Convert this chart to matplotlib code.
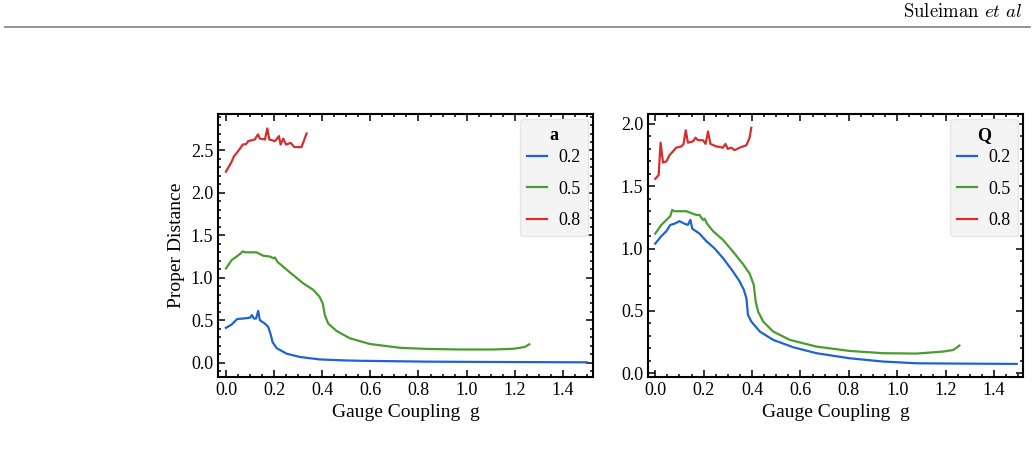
import numpy as np
import matplotlib.pyplot as plt
from matplotlib.lines import Line2D
from matplotlib.ticker import AutoMinorLocator, MultipleLocator

plt.rcParams['font.family'] = ['Liberation Serif', 'DejaVu Serif']
plt.rcParams['mathtext.fontset'] = 'cm'

labels = ['0.2', '0.5', '0.8']
colors = ['#1f63d3', '#4a9b30', '#d2302f']

# left panel: parameter a
a02_g = [0, 0.024, 0.047, 0.072, 0.1, 0.108, 0.116, 0.125, 0.134, 0.141, 0.162, 0.176, 0.186, 0.194,
         0.211, 0.252, 0.307, 0.39, 0.488, 0.557, 0.834, 1.11, 1.5]
a02_d = [0.41, 0.45, 0.515, 0.52, 0.53, 0.56, 0.52, 0.52, 0.61, 0.50, 0.46, 0.42, 0.33, 0.24,
         0.17, 0.106, 0.067, 0.038, 0.027, 0.022, 0.012, 0.008, 0.004]
a05_g = [0, 0.024, 0.044, 0.058, 0.069, 0.083, 0.127, 0.155, 0.183, 0.197, 0.204, 0.213, 0.238, 0.28,
         0.321, 0.363, 0.388, 0.402, 0.411, 0.425, 0.46, 0.515, 0.598, 0.723, 0.834, 0.972, 1.11,
         1.194, 1.242, 1.26]
a05_d = [1.11, 1.21, 1.25, 1.28, 1.31, 1.30, 1.30, 1.26, 1.25, 1.23, 1.24, 1.19, 1.13, 1.03,
         0.935, 0.857, 0.78, 0.70, 0.56, 0.46, 0.373, 0.287, 0.22, 0.175, 0.162, 0.155, 0.155,
         0.163, 0.185, 0.216]
a08_g = [0, 0.024, 0.033, 0.05, 0.07, 0.083, 0.093, 0.12, 0.133, 0.141, 0.162, 0.172, 0.18, 0.204,
         0.22, 0.227, 0.238, 0.25, 0.269, 0.284, 0.314, 0.335]
a08_d = [2.25, 2.37, 2.43, 2.49, 2.57, 2.575, 2.61, 2.63, 2.69, 2.64, 2.63, 2.76, 2.63, 2.61,
         2.67, 2.57, 2.64, 2.57, 2.59, 2.54, 2.54, 2.70]

# right panel: parameter Q
q02_g = [0, 0.025, 0.046, 0.062, 0.08, 0.1, 0.121, 0.135, 0.145, 0.153, 0.183, 0.211, 0.246, 0.28,
         0.321, 0.349, 0.366, 0.377, 0.383, 0.397, 0.432, 0.487, 0.57, 0.666, 0.804, 0.942, 1.08,
         1.218, 1.494]
q02_d = [1.04, 1.10, 1.14, 1.19, 1.20, 1.22, 1.20, 1.19, 1.23, 1.16, 1.12, 1.06, 1.00, 0.924,
         0.817, 0.736, 0.67, 0.60, 0.47, 0.415, 0.335, 0.268, 0.209, 0.161, 0.12, 0.094, 0.08,
         0.078, 0.075]
q05_g = [0, 0.025, 0.046, 0.062, 0.07, 0.08, 0.128, 0.17, 0.183, 0.197, 0.204, 0.214, 0.239, 0.28,
         0.321, 0.363, 0.39, 0.407, 0.415, 0.425, 0.446, 0.487, 0.556, 0.666, 0.804, 0.942, 1.08,
         1.19, 1.232, 1.257]
q05_d = [1.12, 1.19, 1.23, 1.26, 1.31, 1.30, 1.30, 1.27, 1.27, 1.23, 1.24, 1.20, 1.14, 1.07,
         0.977, 0.875, 0.80, 0.71, 0.576, 0.495, 0.415, 0.335, 0.268, 0.214, 0.179, 0.161, 0.158,
         0.174, 0.187, 0.222]
q08_g = [0, 0.014, 0.022, 0.032, 0.046, 0.059, 0.073, 0.087, 0.108, 0.117, 0.126, 0.135, 0.156,
         0.166, 0.177, 0.197, 0.208, 0.218, 0.228, 0.252, 0.28, 0.29, 0.3, 0.314, 0.328, 0.349,
         0.377, 0.39, 0.397]
q08_d = [1.56, 1.59, 1.85, 1.69, 1.70, 1.75, 1.78, 1.81, 1.82, 1.84, 1.95, 1.85, 1.86,
         1.89, 1.87, 1.87, 1.84, 1.94, 1.84, 1.82, 1.81, 1.84, 1.80, 1.81, 1.79, 1.81,
         1.83, 1.89, 1.97]

left_g = [a02_g, a05_g, a08_g]
left_d = [a02_d, a05_d, a08_d]
right_g = [q02_g, q05_g, q08_g]
right_d = [q02_d, q05_d, q08_d]

fig = plt.figure(figsize=(10.34, 4.73), dpi=100)

# page header
fig.text(1022 / 1034, 1 - 12 / 473, r'Suleiman $et\ al$', ha='right', va='center',
         fontsize=13.5, family='cmr10')
fig.add_artist(Line2D([5 / 1034, 1030 / 1034], [1 - 27 / 473, 1 - 27 / 473],
                      transform=fig.transFigure, color='#808080', lw=1.2))

W, H = 1034, 473
ax1 = fig.add_axes([218 / W, 1 - 377 / H, 375 / W, 263 / H])
ax2 = fig.add_axes([648 / W, 1 - 377 / H, 375 / W, 263 / H])


def style(ax, title, xlim, ylim, ymaj):
    ax.set_xlim(*xlim)
    ax.set_ylim(*ylim)
    ax.xaxis.set_major_locator(MultipleLocator(0.2))
    ax.yaxis.set_major_locator(MultipleLocator(ymaj))
    ax.xaxis.set_minor_locator(AutoMinorLocator(4))
    ax.yaxis.set_minor_locator(AutoMinorLocator(5))
    ax.tick_params(which='both', direction='in', top=True, right=True, labelsize=13,
                   width=1.1, color='black')
    ax.tick_params(which='major', length=5)
    ax.tick_params(which='minor', length=2.5)
    for s in ax.spines.values():
        s.set_linewidth(1.5)
    ax.set_xlabel('Gauge Coupling  g', fontsize=14)
    leg = ax.legend(title=title, loc='upper right', fontsize=13, handlelength=1.1,
                    handletextpad=0.6, labelspacing=0.8, borderpad=0.4, fancybox=True,
                    framealpha=1, bbox_to_anchor=(1, 1), borderaxespad=0.3)
    leg.get_title().set_fontweight('bold')
    leg.get_title().set_fontsize(13)
    leg.get_frame().set_facecolor('#f4f4f4')
    leg.get_frame().set_edgecolor('#e6e6e6')
    # tighter gap between the title and the entries
    leg._legend_box.sep = 4


for g, d, c, lab in zip(left_g, left_d, colors, labels):
    ax1.plot(g, d, color=c, lw=1.6, label=lab)
for g, d, c, lab in zip(right_g, right_d, colors, labels):
    ax2.plot(g, d, color=c, lw=1.6, label=lab)

ax1.set_ylabel('Proper Distance', fontsize=14)
style(ax1, 'a', (-0.033, 1.525), (-0.169, 2.93), 0.5)
style(ax2, 'Q', (-0.03, 1.52), (-0.03, 2.08), 0.5)

fig.savefig('out.png', dpi=100)
